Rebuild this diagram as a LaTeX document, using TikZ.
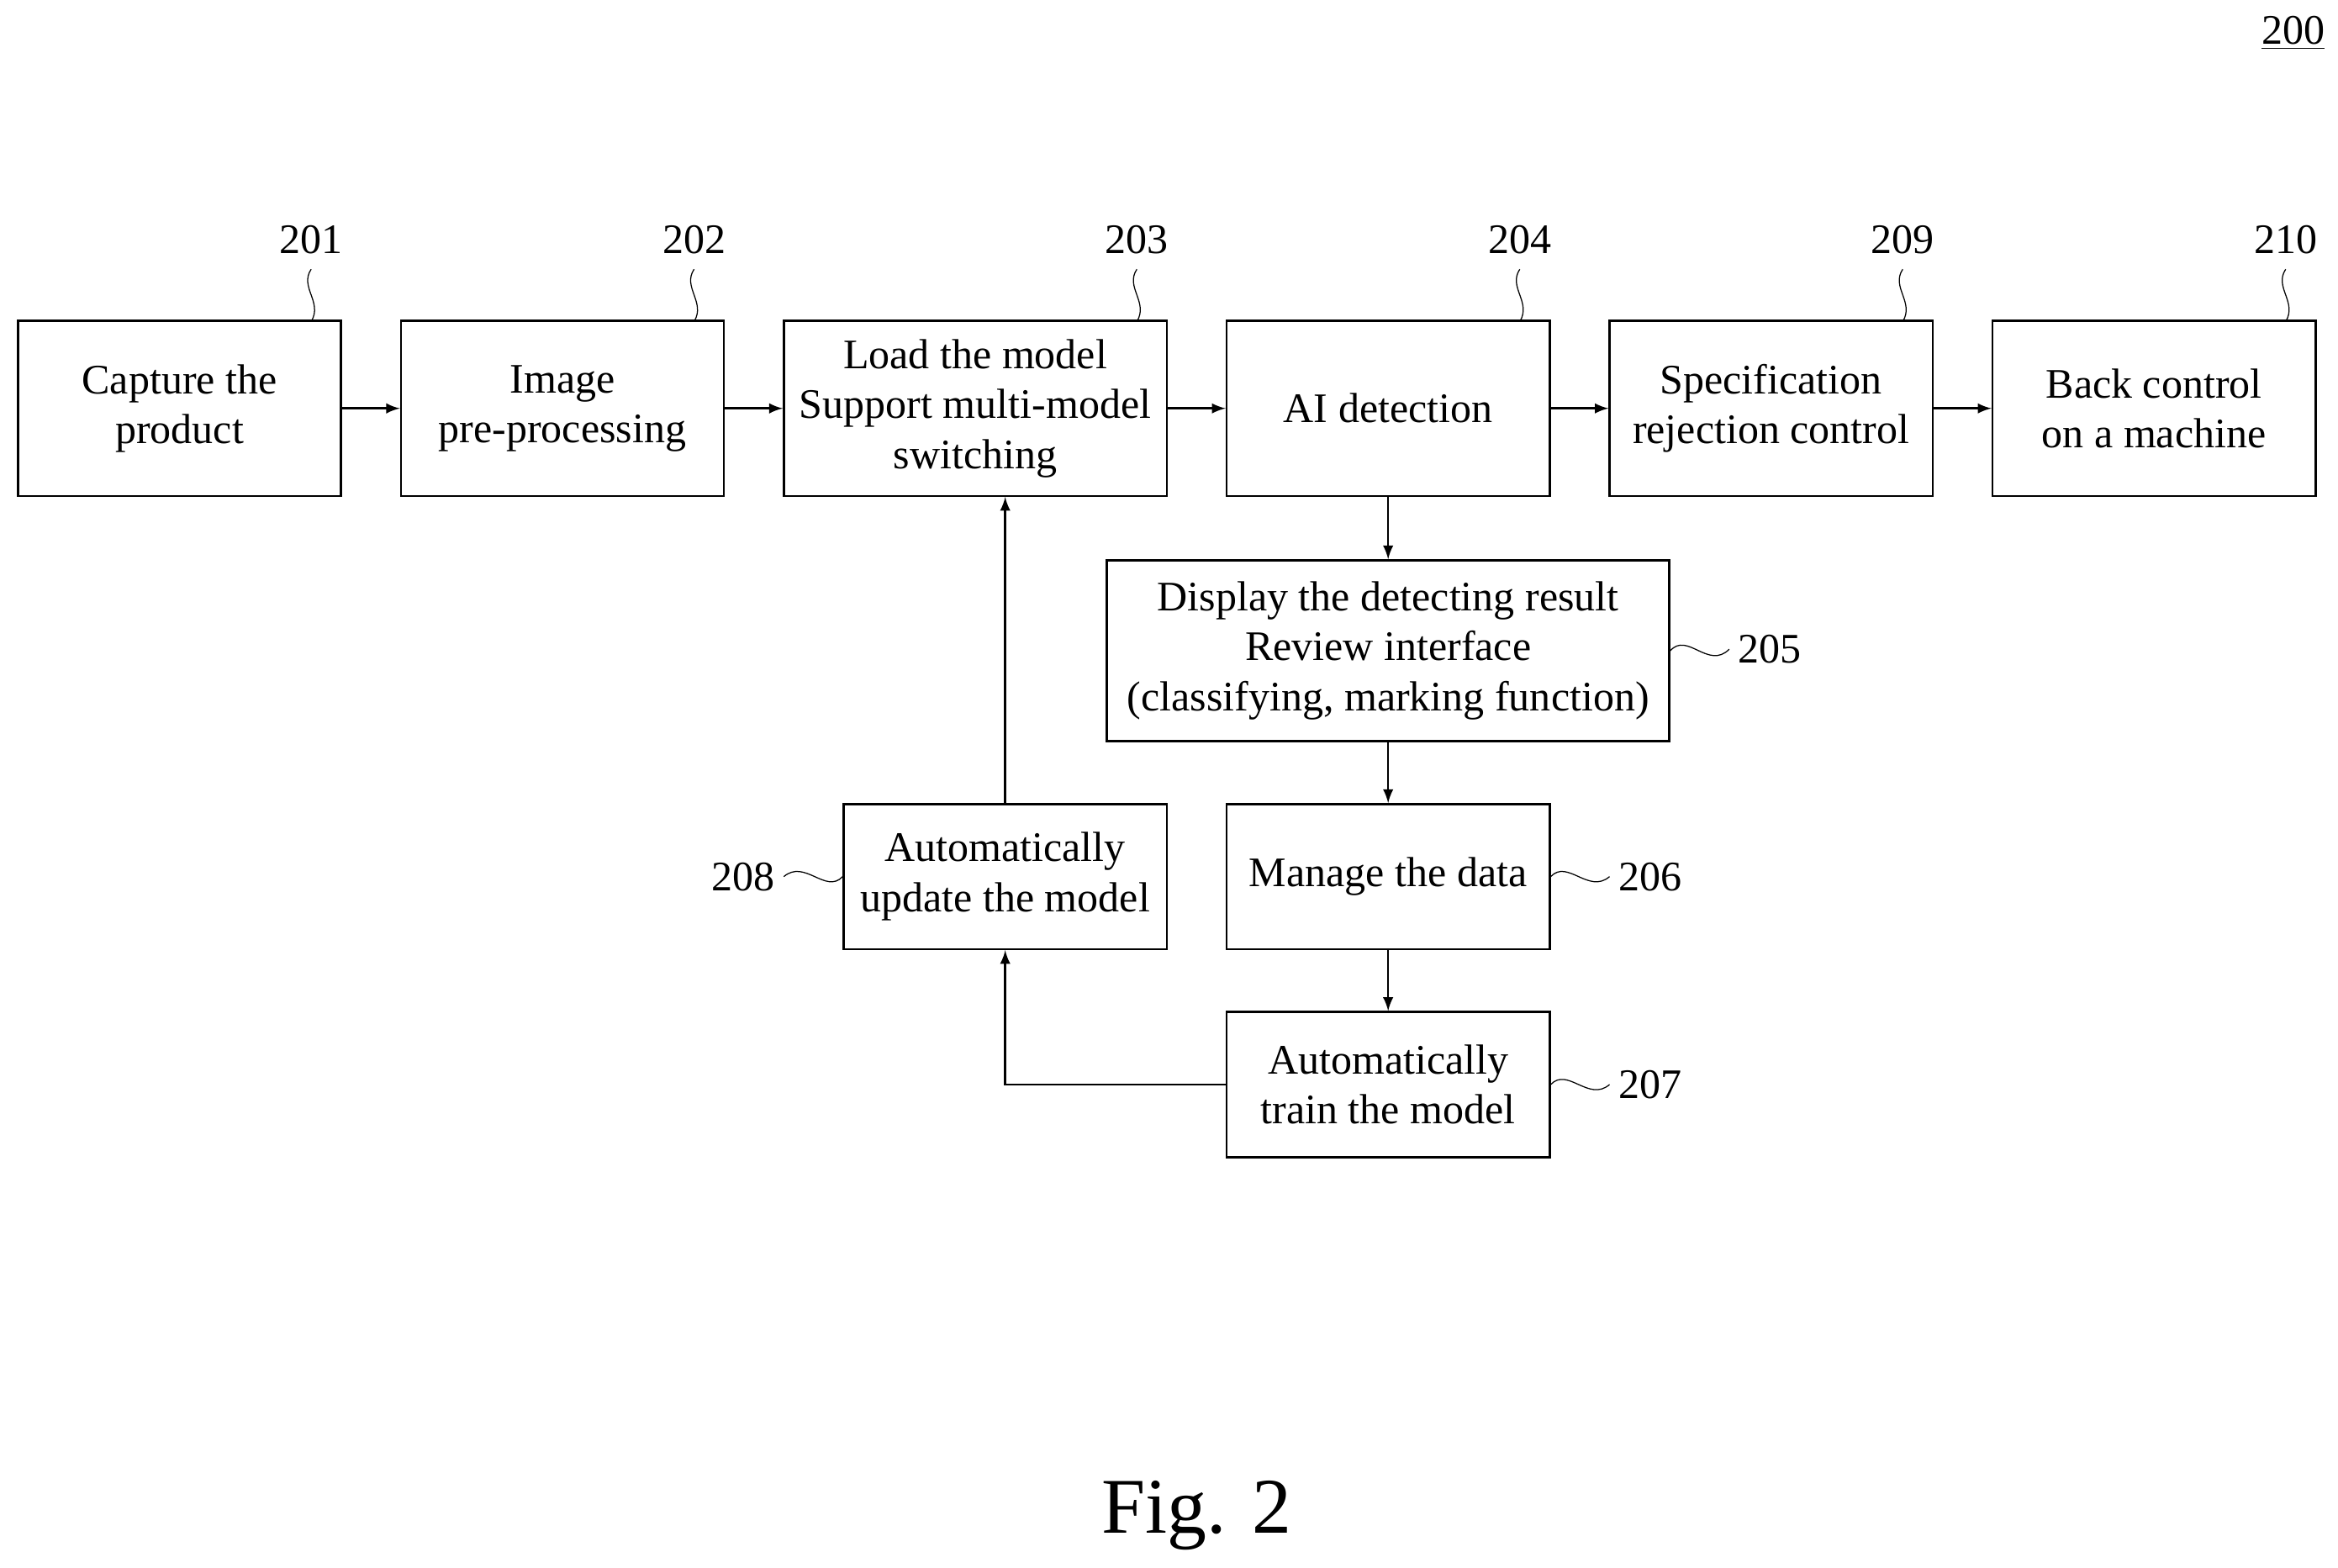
\documentclass[tikz,border=0pt]{standalone}
\usepackage{fontspec}
\setmainfont{Liberation Serif}
\usetikzlibrary{positioning}
\tikzset{>=latex}

\begin{document}
\begin{tikzpicture}[x=0.02cm,y=-0.02cm,
    box/.style={draw, thick, minimum width=4.32cm, align=center, inner sep=1pt,
        font=\fontsize{16}{19}\selectfont},
    tall/.style={box, minimum height=2.34cm},
    short/.style={box, minimum height=1.94cm},
    num/.style={font=\fontsize{16}{19}\selectfont},
    flow/.style={->, thick}]
    \useasboundingbox (0,0) rectangle (1563,1048);

    \node[tall] (capture) at (120,273) {Capture the\\product};
    \node[tall] (prep) at (376,273) {Image\\pre-processing};
    \node[tall, minimum width=5.12cm] (load) at (652,273) {Load the model\\Support multi-model\\switching};
    \node[tall] (detect) at (928,273) {AI detection};
    \node[tall] (reject) at (1184,273) {Specification\\rejection control};
    \node[tall] (back) at (1440,273) {Back control\\on a machine};
    \node[box, minimum width=7.52cm, minimum height=2.42cm] (show) at (928,435) {Display the detecting result\\Review interface\\(classifying, marking function)};
    \node[short] (manage) at (928,586) {Manage the data};
    \node[short] (train) at (928,725) {Automatically\\train the model};
    \node[short] (update) at (672,586) {Automatically\\update the model};

    % reference numbers above the top row
    \foreach \name/\n/\x in {capture/201/208, prep/202/464, load/203/760, detect/204/1016, reject/209/1272, back/210/1528}{
        \node[num] (n\n) at (\x,160) {\n};
        \draw (\x,180) .. controls (\x-8,192) and (\x+8,202) .. (\x,215);
    }
    % reference numbers beside the lower boxes
    \node[num, right] (n205) at (1156,434) {205};
    \draw (show.east) .. controls (1128,422) and (1142,448) .. (1156,434);
    \node[num, right] (n206) at (1076,586) {206};
    \draw (manage.east) .. controls (1048,574) and (1062,598) .. (1076,586);
    \node[num, right] (n207) at (1076,725) {207};
    \draw (train.east) .. controls (1048,713) and (1062,737) .. (1076,725);
    \node[num, left] (n208) at (524,586) {208};
    \draw (update.west) .. controls (552,598) and (538,574) .. (524,586);

    \node[num] (n200) at (1533,22) {\underline{200}};
    \node[font=\fontsize{30}{36}\selectfont] (fig) at (800,1013) {Fig. 2};

    \draw[flow] (capture) -- (prep);
    \draw[flow] (prep) -- (load);
    \draw[flow] (load) -- (detect);
    \draw[flow] (detect) -- (reject);
    \draw[flow] (reject) -- (back);
    \draw[flow] (detect) -- (show);
    \draw[flow] (show) -- (manage);
    \draw[flow] (manage) -- (train);
    \draw[flow] (train.west) -| (update.south);
    \draw[flow] (update.north) -- (load.south -| update.north);
\end{tikzpicture}
\end{document}
